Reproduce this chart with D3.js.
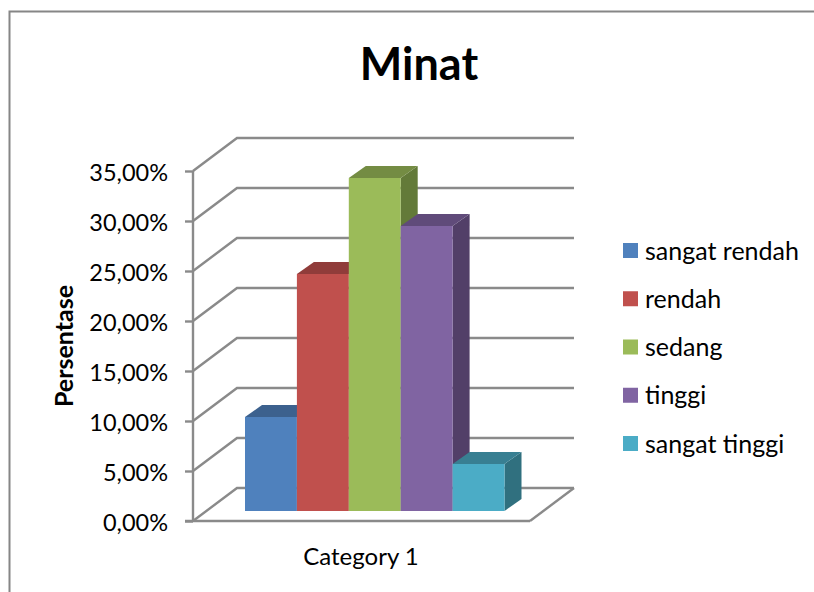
<!DOCTYPE html>
<html>
<head>
<meta charset="utf-8">
<script src="https://cdn.jsdelivr.net/npm/d3@7"></script>
<style>
html,body{margin:0;padding:0;background:#fff;}
svg{display:block;}
text{font-family:Lato,"Open Sans",sans-serif;fill:#000;}
</style>
</head>
<body>
<div id="chart"></div>
<script>
var seriesNames = ["sangat rendah","rendah","sedang","tinggi","sangat tinggi"];
var seriesValues = [0.094,0.237,0.333,0.285,0.047];
var seriesColors = ["#4f81bd","#c0504d","#9bbb59","#8064a2","#4bacc6"];
var topColors = ["#3c618e","#903c3a","#748c43","#604b7a","#387f92"];
var sideColors = ["#335379","#7a3331","#637a39","#523f68","#30707f"];
var yTicks = [0,0.05,0.10,0.15,0.20,0.25,0.30,0.35];
var categoryName = "Category 1";
var titleText = "Minat";
var yTitle = "Persentase";

var width = 814, height = 592;
var wallDx = 44, wallDy = -33;   // depth of the whole 3d box
var barDx = 17, barDy = -12;     // depth of one bar
var frontLift = 10;              // bars stand a bit behind the front edge

var svg = d3.select("#chart").append("svg")
    .attr("width", width)
    .attr("height", height);

// chart frame, right side is cut off in the picture
svg.append("path")
    .attr("d", "M9.5,592V11.5H814")
    .attr("fill", "none")
    .attr("stroke", "#868686")
    .attr("stroke-width", 2);

var y = d3.scaleLinear().domain([0,0.35]).range([521,171]);
var x = d3.scaleBand().domain(seriesNames).range([245,504.5]);
var fmt = function(v){ return d3.format(".2f")(v*100).replace(".",",") + "%"; };

var gridColor = "#8a8a8a";
var gridWidth = 2.4;
var x0 = 193, xFront = 530, xBack = 574;

// gridlines on side and back wall
svg.append("g").selectAll("path")
    .data(yTicks)
    .join("path")
    .attr("d", function(d){
        return "M"+x0+","+y(d)+"L"+(x0+wallDx)+","+(y(d)+wallDy)+"H"+xBack;
    })
    .attr("fill","none")
    .attr("stroke",gridColor)
    .attr("stroke-width",gridWidth);

// floor
svg.append("path")
    .attr("d","M"+xFront+","+y(0)+"L"+xBack+","+(y(0)+wallDy))
    .attr("fill","none")
    .attr("stroke",gridColor)
    .attr("stroke-width",gridWidth);

// axes
var gY = svg.append("g")
    .attr("transform","translate("+x0+",0)")
    .call(d3.axisLeft(y).tickValues(yTicks).tickFormat(fmt).tickSize(8).tickPadding(17));
gY.select(".domain").attr("stroke",gridColor).attr("stroke-width",gridWidth).attr("d","M0,"+y(0.35)+"V"+(y(0)+1));
gY.selectAll(".tick line").attr("stroke",gridColor).attr("stroke-width",gridWidth);
gY.selectAll(".tick text").attr("font-size",23.5).attr("y",1.5).style("font-family","Lato,sans-serif").attr("fill","#000");

svg.append("path")
    .attr("d","M"+(x0-8)+","+y(0)+"H"+xFront)
    .attr("stroke",gridColor)
    .attr("stroke-width",gridWidth);

// bars, left to right so each one overlaps the previous
var bars = svg.append("g").selectAll("g")
    .data(seriesNames)
    .join("g");

var base = y(0) - frontLift;
function barTop(i){ return base - (y(0) - y(seriesValues[i])); }

bars.append("path") // side
    .attr("d", function(d,i){
        var r = x(d)+x.bandwidth();
        return "M"+r+","+barTop(i)+"l"+barDx+","+barDy+"V"+(base+barDy)+"l"+(-barDx)+","+(-barDy)+"Z";
    })
    .attr("fill", function(d,i){ return sideColors[i]; });

bars.append("path") // top
    .attr("d", function(d,i){
        return "M"+x(d)+","+barTop(i)+"l"+barDx+","+barDy+"h"+x.bandwidth()+"l"+(-barDx)+","+(-barDy)+"Z";
    })
    .attr("fill", function(d,i){ return topColors[i]; });

bars.append("rect") // front
    .attr("x", function(d){ return x(d); })
    .attr("y", function(d,i){ return barTop(i); })
    .attr("width", x.bandwidth())
    .attr("height", function(d,i){ return base - barTop(i); })
    .attr("fill", function(d,i){ return seriesColors[i]; });

// labels
svg.append("text")
    .attr("x",419).attr("y",80)
    .attr("text-anchor","middle")
    .attr("font-size",45)
    .attr("font-weight",700)
    .text(titleText);

svg.append("text")
    .attr("transform","translate(73,346) rotate(-90)")
    .attr("text-anchor","middle")
    .attr("font-size",25)
    .attr("font-weight",700)
    .text(yTitle);

svg.append("text")
    .attr("x",361).attr("y",565)
    .attr("text-anchor","middle")
    .attr("font-size",24)
    .text(categoryName);

// legend
var legendY = d3.scalePoint().domain(seriesNames).range([250.5,443.5]);
var legend = svg.append("g").selectAll("g")
    .data(seriesNames)
    .join("g")
    .attr("transform",function(d){ return "translate(623,"+legendY(d)+")"; });
legend.append("rect")
    .attr("x",0).attr("y",-7.5)
    .attr("width",15).attr("height",15)
    .attr("fill",function(d,i){ return seriesColors[i]; });
legend.append("text")
    .attr("x",22).attr("y",9)
    .attr("font-size",25)
    .text(function(d){ return d; });
</script>
</body>
</html>
